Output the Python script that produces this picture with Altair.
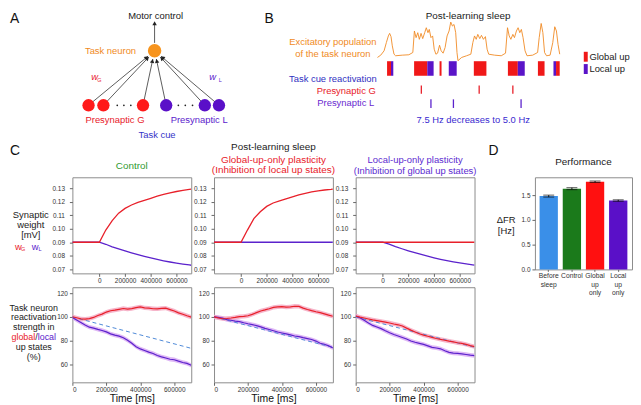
import altair as alt
import pandas as pd

FONT = "Liberation Sans"
INK = "#1a1a1a"
RED = "#e8202a"
PURPLE = "#5b22cc"
ORANGE = "#f08a24"
CUE_BLUE = "#3434c8"
BAND_RED = "#f4a3bd"
BAND_PURPLE = "#d7a6f2"
DASH_BLUE = "#4f8ad8"
TITLE_GREEN = "#2f9a2f"
TITLE_PURPLE = "#5b2ad0"
UP_COLORS = {"Global up": "#f01818", "Local up": "#5a14c8"}
POP_COLORS = {"G": "#ff1a1a", "L": "#5a10c8"}

# ---------------- Panel A : network diagram (diagram units) ----------------
neuron_pos = [147.0, 40.3]
presyn_x = [80.3, 95.3, 135.3, 158.7, 197.7, 212.0]
presyn_kind = ["G", "G", "G", "L", "L", "L"]
presyn_row = 95.3
dots_x = [109.3, 116.0, 123.0, 171.0, 178.0, 185.3]

# ---------------- Panel B : post-learning sleep ----------------
trace_t = [-0.1, 0.23, 0.57, 0.8, 1.0, 1.13, 1.27, 1.4, 1.57, 1.73, 2.4, 3.07, 3.47, 3.63, 3.8, 3.97,
           4.13, 4.3, 4.47, 4.67, 4.83, 5.0, 5.13, 5.3, 5.47, 5.63, 5.8, 5.97, 6.17, 6.33, 6.53, 6.73,
           6.93, 7.13, 7.3, 7.47, 7.63, 7.8, 7.93, 8.03, 8.4, 8.9, 9.33, 9.53, 9.7, 9.87, 10.03, 10.23,
           10.4, 10.6, 10.8, 10.97, 11.13, 11.73, 12.4, 12.83, 13.03, 13.2, 13.37, 13.57, 13.73, 13.93,
           14.1, 14.27, 14.43, 14.6, 14.8, 15.0, 15.57, 16.07, 16.23, 16.43, 16.6, 16.77, 16.97, 17.33,
           17.6, 17.8, 17.97, 18.13, 18.3]
trace_rate = [3, 5.3, 9.7, 18, 24.7, 27.3, 24, 14.7, 6.3, 4.7, 5.3, 5.7, 8, 29.7, 23, 28,
              21.3, 27.3, 22, 28, 33, 28, 31.3, 23, 24.7, 11.3, 6.3, 7.3, 15.3, 9.7, 7.3, 13,
              24.7, 29.7, 38.7, 34.7, 36.3, 28, 8, -0.3, 3, 4.7, 6.3, 18, 24.7, 21.3, 26.3, 22,
              25.3, 21.3, 24, 11.3, 6.3, 5.3, 4.7, 7.3, 33, 24.7, 21.3, 26.3, 23, 29.7,
              33, 28, 31.3, 23, 9.7, 4.7, 5.3, 8, 23, 37.3, 28, 8, 4.7, 5.3,
              18, 34, 29.7, 16.3, 6.3]
up_start = [0.87, 1.27, 3.6, 4.93, 6.17, 7.1, 9.63, 13.07, 14.07, 16.1, 17.67, 17.93]
up_end = [1.27, 1.5, 4.93, 5.57, 6.37, 7.9, 10.9, 14.07, 14.77, 16.77, 17.93, 18.3]
up_kind = ["Global up", "Local up", "Global up", "Local up", "Global up", "Local up", "Global up",
           "Global up", "Local up", "Global up", "Local up", "Global up"]
spike_G = [4.33, 10.17, 13.57]
spike_L = [5.3, 7.57, 14.4]

# ---------------- Panel C : synaptic weights ----------------
T1 = [-210000, 0, 50000, 100000, 150000, 200000, 250000, 300000, 350000, 400000, 450000,
      500000, 550000, 600000, 650000, 700000, 715000]
ctrl_wG = [0.0900, 0.0900, 0.0990, 0.1060, 0.1115, 0.1150, 0.1175, 0.1195, 0.1210, 0.1225, 0.1240,
           0.1253, 0.1265, 0.1275, 0.1283, 0.1290, 0.1292]
ctrl_wL = [0.0900, 0.0900, 0.0885, 0.0866, 0.0851, 0.0836, 0.0822, 0.0809, 0.0796, 0.0784, 0.0773,
           0.0763, 0.0754, 0.0746, 0.0739, 0.0732, 0.0730]
glob_wG = [0.0900, 0.0900, 0.0990, 0.1075, 0.1125, 0.1165, 0.1190, 0.1205, 0.1220, 0.1235, 0.1250,
           0.1262, 0.1272, 0.1280, 0.1286, 0.1290, 0.1292]
glob_wL = [0.0900, 0.0900, 0.0900, 0.0900, 0.0900, 0.0900, 0.0900, 0.0900, 0.0900, 0.0900, 0.0900,
           0.0900, 0.0900, 0.0900, 0.0900, 0.0900, 0.0900]
loc_wG = [0.0900, 0.0900, 0.0900, 0.0900, 0.0900, 0.0900, 0.0900, 0.0900, 0.0900, 0.0900, 0.0900,
          0.0900, 0.0900, 0.0900, 0.0900, 0.0900, 0.0900]
loc_wL = [0.0900, 0.0900, 0.0886, 0.0868, 0.0852, 0.0837, 0.0823, 0.0810, 0.0797, 0.0785, 0.0774,
          0.0764, 0.0755, 0.0747, 0.0740, 0.0733, 0.0731]
W_TICKS = [0.07, 0.08, 0.09, 0.10, 0.11, 0.12, 0.13]
T_TICKS = [0, 200000, 400000, 600000]

# ---------------- Panel C : reactivation strength (%) ----------------
T2 = [0, 25000, 50000, 75000, 100000, 125000, 150000, 175000, 200000, 225000, 250000, 275000,
      300000, 325000, 350000, 375000, 400000, 425000, 450000, 475000, 500000, 525000, 550000,
      575000, 600000, 625000, 650000, 675000, 700000]
ctrl_red = [100.2, 99.3, 98.4, 98.1, 98.6, 99.6, 101.2, 102.4, 104.1, 105.2, 105.7, 106.4, 107.1,
            106.6, 107.0, 107.9, 108.5, 107.7, 107.4, 106.9, 106.8, 107.2, 107.4, 106.2, 105.0,
            103.4, 102.3, 101.0, 99.9]
ctrl_purple = [99.6, 97.4, 95.3, 93.2, 91.4, 90.6, 89.5, 88.6, 87.4, 85.8, 84.7, 83.9, 82.5, 80.4,
               77.9, 75.0, 73.1, 71.8, 70.4, 69.3, 67.6, 66.4, 65.5, 64.4, 64.0, 62.8, 61.7, 60.9, 59.3]
glob_red = [100.1, 99.2, 98.5, 98.7, 99.1, 99.6, 100.2, 100.5, 101.0, 102.2, 103.6, 105.0, 105.9,
            106.9, 108.1, 108.4, 108.7, 108.3, 108.5, 109.0, 108.9, 107.4, 106.3, 105.3, 104.4,
            103.6, 102.6, 101.5, 100.6]
glob_purple = [100.0, 99.7, 99.0, 97.7, 97.2, 96.5, 96.0, 95.1, 94.3, 93.6, 92.7, 91.6, 90.4, 89.4,
               88.4, 87.3, 86.5, 85.7, 84.9, 84.0, 83.5, 82.6, 81.8, 81.0, 79.7, 77.9, 77.0, 75.7, 73.9]
loc_red = [100.8, 99.9, 99.1, 98.3, 97.5, 96.9, 96.3, 95.6, 94.9, 94.1, 93.4, 92.4, 90.6, 88.9,
           87.4, 85.9, 84.7, 83.8, 82.8, 81.9, 81.1, 80.4, 79.6, 79.0, 78.3, 77.7, 76.9, 75.9, 75.0]
loc_purple = [100.8, 99.3, 97.2, 95.0, 92.9, 91.6, 90.2, 88.4, 86.7, 85.2, 84.0, 82.7, 81.4, 79.8,
              78.7, 77.8, 76.9, 75.7, 74.4, 73.9, 73.2, 71.6, 70.2, 69.6, 69.3, 68.9, 68.4, 67.9, 67.5]
dash_end = {"ctrl": 73.6, "glob": 74.4, "loc": 74.5}

# ---------------- Panel D : performance ----------------
d_cats = ["Before sleep", "Control", "Global up only", "Local up only"]
d_vals = [1.48, 1.63, 1.77, 1.39]
d_err = [0.02, 0.02, 0.015, 0.015]
d_colors = ["#3a8fe8", "#1b7a1b", "#ff1010", "#5a10c8"]
D_TICKS = [0.0, 0.5, 1.0, 1.5]

NOFRAME = alt.ViewBackground(stroke="transparent")


def text_layer(rows, xs, ys, align="center", baseline="middle", style="normal"):
    df = pd.DataFrame(rows, columns=["text", "x", "y", "c", "s"])
    return alt.Chart(df).mark_text(align=align, baseline=baseline, font=FONT, fontStyle=style).encode(
        x=alt.X("x:Q", scale=xs, axis=None),
        y=alt.Y("y:Q", scale=ys, axis=None),
        text="text:N",
        color=alt.Color("c:N", scale=None),
        size=alt.Size("s:Q", scale=None),
    )


# grid geometry (flush bounds, per-column alignment)
H0 = 154            # top row height
LW = 41             # label column width
CW, CH1, CH2 = 120, 97, 96
GAPW = 15
DW, DH = 98, 93

# ======================= Panel A =======================
ax_s = alt.Scale(domain=[0, LW], nice=False, zero=False)
ay_s = alt.Scale(domain=[0, H0], reverse=True, nice=False, zero=False)
edges = pd.DataFrame({"x": presyn_x, "y": [presyn_row] * 6,
                      "nx": [neuron_pos[0]] * 6, "ny": [neuron_pos[1]] * 6})
eb = (alt.Chart(edges)
      .transform_calculate(dx="datum.nx - datum.x")
      .transform_calculate(dy="datum.ny - datum.y")
      .transform_calculate(L="sqrt(datum.dx*datum.dx + datum.dy*datum.dy)")
      .transform_calculate(ex="datum.nx - datum.dx/datum.L*8.5")
      .transform_calculate(ey="datum.ny - datum.dy/datum.L*8.5")
      .transform_calculate(hx="datum.nx - datum.dx/datum.L*10.5")
      .transform_calculate(hy="datum.ny - datum.dy/datum.L*10.5")
      .transform_calculate(ang="(atan2(datum.dx, -datum.dy)*180/PI + 360) % 360"))
a_edges = eb.mark_rule(color="#333333", strokeWidth=0.8).encode(
    x=alt.X("x:Q", scale=ax_s, axis=None), y=alt.Y("y:Q", scale=ay_s, axis=None),
    x2="ex:Q", y2="ey:Q")
a_heads = eb.mark_point(shape="triangle-up", filled=True, size=20, color="#222222", opacity=1).encode(
    x=alt.X("hx:Q", scale=ax_s, axis=None), y=alt.Y("hy:Q", scale=ay_s, axis=None),
    angle=alt.Angle("ang:Q", scale=None))
motor = pd.DataFrame({"x": [neuron_pos[0]], "y": [neuron_pos[1] - 8], "y2": [12.5]})
a_out = alt.Chart(motor).mark_rule(color="#333333", strokeWidth=0.8).encode(
    x=alt.X("x:Q", scale=ax_s, axis=None), y=alt.Y("y:Q", scale=ay_s, axis=None), y2="y2:Q")
a_outhead = alt.Chart(motor).mark_point(shape="triangle-up", filled=True, size=20, color="#222222",
                                        opacity=1).encode(
    x=alt.X("x:Q", scale=ax_s, axis=None), y=alt.Y("y2:Q", scale=ay_s, axis=None))
nodes = pd.DataFrame({"x": presyn_x, "y": [presyn_row] * 6,
                      "c": [POP_COLORS[k] for k in presyn_kind]})
a_nodes = alt.Chart(nodes).mark_circle(size=155, opacity=1).encode(
    x=alt.X("x:Q", scale=ax_s, axis=None), y=alt.Y("y:Q", scale=ay_s, axis=None),
    color=alt.Color("c:N", scale=None))
a_neuron = alt.Chart(pd.DataFrame({"x": [neuron_pos[0]], "y": [neuron_pos[1]]})).mark_circle(
    size=185, opacity=1, color="#f7941d").encode(
    x=alt.X("x:Q", scale=ax_s, axis=None), y=alt.Y("y:Q", scale=ay_s, axis=None))
a_dots = alt.Chart(pd.DataFrame({"x": dots_x, "y": [presyn_row] * 6})).mark_circle(
    size=3, opacity=1, color="#222222").encode(
    x=alt.X("x:Q", scale=ax_s, axis=None), y=alt.Y("y:Q", scale=ay_s, axis=None))
a_txt = text_layer([
    ["Motor control", 148, 5.0, INK, 9.5],
    ["Task neuron", 102.5, 41, ORANGE, 9.5],
    ["Presynaptic G", 107, 110.3, RED, 9.5],
    ["Presynaptic L", 192, 110.3, PURPLE, 9.5],
    ["Task cue", 149.5, 125.3, CUE_BLUE, 9.5],
    ["G", 91.3, 69.8, RED, 5.5],
    ["L", 213.3, 69.8, PURPLE, 5.5],
], ax_s, ay_s)
a_w = text_layer([
    ["w", 86.5, 66.5, RED, 9.5],
    ["w", 205.5, 66.5, PURPLE, 9.5],
], ax_s, ay_s, style="italic")
a_letter = text_layer([["A", 1, 1, "#111111", 14]], ax_s, ay_s, align="left", baseline="top")
panel_A = alt.layer(a_edges, a_heads, a_out, a_outhead, a_nodes, a_neuron, a_dots, a_txt, a_w,
                    a_letter).properties(width=LW, height=H0, view=NOFRAME)

# ======================= Panel B =======================
# the B cell sits in the third grid column; time axis: 10 px per second, t=0 at the trace start
bx_s = alt.Scale(domain=[-16.6, -4.6], nice=False, zero=False)
by_s = alt.Scale(domain=[0, H0], reverse=True, nice=False, zero=False)
b_trace = alt.Chart(pd.DataFrame({"t": trace_t, "r": trace_rate})).mark_line(
    color=ORANGE, strokeWidth=0.9).encode(
    x=alt.X("t:Q", scale=bx_s, axis=None),
    y=alt.Y("r:Q", scale=alt.Scale(domain=[-104, 50], nice=False, zero=False), axis=None))
up_df = pd.DataFrame({"t1": up_start, "t2": up_end, "c": [UP_COLORS[k] for k in up_kind]})
b_up = alt.Chart(up_df).transform_calculate(y1="50.8", y2="65.5").mark_rect().encode(
    x=alt.X("t1:Q", scale=bx_s, axis=None), x2="t2:Q",
    y=alt.Y("y1:Q", scale=by_s, axis=None), y2="y2:Q",
    color=alt.Color("c:N", scale=None))
sp_df = pd.DataFrame({"t": spike_G + spike_L,
                      "pop": ["G"] * len(spike_G) + ["L"] * len(spike_L),
                      "c": [RED] * len(spike_G) + [PURPLE] * len(spike_L)})
b_spk = alt.Chart(sp_df).transform_calculate(
    y1="datum.pop == 'G' ? 75.3 : 89.3", y2="datum.pop == 'G' ? 83.7 : 98.0").mark_rule(
    strokeWidth=1.3).encode(
    x=alt.X("t:Q", scale=bx_s, axis=None),
    y=alt.Y("y1:Q", scale=by_s, axis=None), y2="y2:Q",
    color=alt.Color("c:N", scale=None))
leg_df = pd.DataFrame({"c": [UP_COLORS["Global up"], UP_COLORS["Local up"]],
                       "t1": [20.73, 20.73], "t2": [21.13, 21.13],
                       "y1": [41.3, 53.7], "y2": [51.3, 63.7]})
b_leg = alt.Chart(leg_df).mark_rect().encode(
    x=alt.X("t1:Q", scale=bx_s, axis=None), x2="t2:Q",
    y=alt.Y("y1:Q", scale=by_s, axis=None), y2="y2:Q",
    color=alt.Color("c:N", scale=None))
b_txt = text_layer([
    ["Post-learning sleep", 9.05, 5.2, INK, 10],
    ["Excitatory population", -4.6, 31.3, ORANGE, 9.5],
    ["of the task neuron", -4.6, 43.7, ORANGE, 9.5],
    ["Task cue reactivation", -4.6, 68.7, "#2f2fbf", 9.5],
    ["Presynaptic G", -3.25, 81.3, RED, 9.5],
    ["Presynaptic L", -3.3, 93.3, "#6a2ad0", 9.5],
    ["7.5 Hz decreases to 5.0 Hz", 9.57, 109.7, "#3a2ad0", 9.5],
], bx_s, by_s)
b_legtxt = text_layer([
    ["Global up", 21.3, 46.3, INK, 9.5],
    ["Local up", 21.3, 58.7, INK, 9.5],
], bx_s, by_s, align="left")
b_letter = text_layer([["B", -11.5, 1, "#111111", 14]], bx_s, by_s, align="left", baseline="top")
panel_B = alt.layer(b_trace, b_up, b_spk, b_leg, b_txt, b_legtxt, b_letter).resolve_scale(
    y="independent").properties(width=CW, height=H0, view=NOFRAME)

# ======================= Panel C =======================


def weight_panel(wG, wL, title):
    df = pd.DataFrame({"t": T1, "wG": wG, "wL": wL})
    xs = alt.X("t:Q", scale=alt.Scale(domain=[-210000, 715000], nice=False, zero=False),
               axis=alt.Axis(values=T_TICKS, format="d", title="", labelPadding=1))
    ys = alt.Scale(domain=[0.067, 0.138], nice=False, zero=False)
    yax = alt.Axis(values=W_TICKS, format=".2f", title="", labelPadding=5)
    base = alt.Chart(df)
    lp = base.mark_line(color=PURPLE, strokeWidth=1.3, clip=True).encode(
        x=xs, y=alt.Y("wL:Q", scale=ys, axis=yax))
    lr = base.mark_line(color=RED, strokeWidth=1.3, clip=True).encode(
        x=xs, y=alt.Y("wG:Q", scale=ys, axis=yax))
    return alt.layer(lp, lr).properties(width=CW, height=CH1, title=title)


def react_panel(red, purple, dend):
    df = pd.DataFrame({"t": T2, "red": red, "purple": purple})
    xs = alt.X("t:Q", scale=alt.Scale(domain=[0, 700000], nice=False, zero=False),
               axis=alt.Axis(values=T_TICKS, format="d", title="Time [ms]", titleFontSize=10.5,
                             titlePadding=1, labelPadding=1))
    ys = alt.Scale(domain=[45, 125], nice=False, zero=False)
    yax = alt.Axis(values=[60, 80, 100, 120], title="", labelPadding=2)
    base = alt.Chart(df).transform_calculate(
        rlo="datum.red - 1.8", rhi="datum.red + 1.8",
        plo="datum.purple - 1.8", phi="datum.purple + 1.8")
    bp = base.mark_area(color=BAND_PURPLE, opacity=0.8, clip=True).encode(
        x=xs, y=alt.Y("plo:Q", scale=ys, axis=yax), y2="phi:Q")
    br = base.mark_area(color=BAND_RED, opacity=0.8, clip=True).encode(
        x=xs, y=alt.Y("rlo:Q", scale=ys, axis=yax), y2="rhi:Q")
    dash = alt.Chart(pd.DataFrame({"t": [0, 700000], "v": [100, dend]})).mark_line(
        color=DASH_BLUE, strokeDash=[4, 3], strokeWidth=1).encode(
        x=xs, y=alt.Y("v:Q", scale=ys, axis=yax))
    lp = base.mark_line(color=PURPLE, strokeWidth=1.2, clip=True).encode(
        x=xs, y=alt.Y("purple:Q", scale=ys, axis=yax))
    lr = base.mark_line(color=RED, strokeWidth=1.2, clip=True).encode(
        x=xs, y=alt.Y("red:Q", scale=ys, axis=yax))
    return alt.layer(bp, br, dash, lp, lr).properties(width=CW, height=CH2)


c11 = weight_panel(ctrl_wG, ctrl_wL, alt.TitleParams("Control", color=TITLE_GREEN, fontSize=10,
                                                        offset=6))
c12 = weight_panel(glob_wG, glob_wL,
                   alt.TitleParams(["Global-up-only plasticity", "(Inhibition of local up states)"],
                                   color=RED, fontSize=10, offset=2, lineHeight=10.5))
c13 = weight_panel(loc_wG, loc_wL,
                   alt.TitleParams(["Local-up-only plasticity", "(Inhibition of global up states)"],
                                   color=TITLE_PURPLE, fontSize=9.5, offset=2, lineHeight=10.5))
c21 = react_panel(ctrl_red, ctrl_purple, dash_end["ctrl"])
c22 = react_panel(glob_red, glob_purple, dash_end["glob"])
c23 = react_panel(loc_red, loc_purple, dash_end["loc"])

lx_s = alt.Scale(domain=[0, LW], nice=False, zero=False)
ly1_s = alt.Scale(domain=[0, CH1], reverse=True, nice=False, zero=False)
ly2_s = alt.Scale(domain=[0, CH2], reverse=True, nice=False, zero=False)
lab_top = alt.layer(
    text_layer([
        ["Synaptic", 22, 38, INK, 9.5],
        ["weight", 22, 48.3, INK, 9.5],
        ["[mV]", 22, 58.6, INK, 9.5],
        ["w", 9.5, 70, RED, 9.5],
        ["G", 14.3, 72.6, RED, 5.5],
        ["w", 26.5, 70, PURPLE, 9.5],
        ["L", 31.3, 72.6, PURPLE, 5.5],
        ["Post-learning sleep", 267, -31, INK, 10],
    ], lx_s, ly1_s),
    text_layer([["C", 1, -34, "#111111", 14]], lx_s, ly1_s, align="left", baseline="top"),
).properties(width=LW, height=CH1, view=NOFRAME)

lab_bot = alt.layer(
    text_layer([
        ["Task neuron", 25, 20.5, INK, 9],
        ["reactivation", 25, 30.4, INK, 9],
        ["strength in", 25, 40.3, INK, 9],
        ["/", 27.75, 50.2, INK, 9],
        ["up states", 25, 60.1, INK, 9],
        ["(%)", 25, 70, INK, 9],
    ], lx_s, ly2_s),
    text_layer([["global", 26.5, 50.2, RED, 9]], lx_s, ly2_s, align="right"),
    text_layer([["local", 29.0, 50.2, PURPLE, 9]], lx_s, ly2_s, align="left"),
).properties(width=LW, height=CH2, view=NOFRAME)

# ======================= Panel D =======================
d_df = pd.DataFrame({"cond": d_cats, "val": d_vals, "err": d_err, "c": d_colors})
dx = alt.X("cond:N", sort=d_cats,
           scale=alt.Scale(domain=d_cats, paddingInner=0.21, paddingOuter=0.2),
           axis=alt.Axis(labelExpr="split(datum.label, ' ')", labelAngle=0, title="", tickSize=2,
                         labelPadding=1.5, labelLineHeight=8.3, labelFontSize=6.8))
dys = alt.Scale(domain=[0, 1.86], nice=False, zero=False)
dyax = alt.Axis(values=D_TICKS, format=".1f", title="", labelPadding=2, labelOverlap=False,
                labelFlush=False)
d_base = alt.Chart(d_df).transform_calculate(lo="datum.val - datum.err", hi="datum.val + datum.err")
d_bars = d_base.mark_bar().encode(
    x=dx, y=alt.Y("val:Q", scale=dys, axis=dyax),
    color=alt.Color("c:N", scale=None))
d_rule = d_base.mark_rule(color="#111111", strokeWidth=1).encode(
    x=dx, y=alt.Y("lo:Q", scale=dys, axis=dyax), y2="hi:Q")
d_cap1 = d_base.mark_tick(color="#111111", size=11, thickness=1).encode(
    x=dx, y=alt.Y("lo:Q", scale=dys, axis=dyax))
d_cap2 = d_base.mark_tick(color="#111111", size=11, thickness=1).encode(
    x=dx, y=alt.Y("hi:Q", scale=dys, axis=dyax))
panel_D = alt.layer(d_bars, d_rule, d_cap1, d_cap2).properties(
    width=DW, height=DH, title=alt.TitleParams("Performance", fontSize=10, offset=10.5, color=INK))

# gap cell between C and D carries the "D" panel letter and the D y-axis title
gap_s = alt.Scale(domain=[0, GAPW], nice=False, zero=False)
gap_top = alt.layer(
    text_layer([["D", -9, -34, "#111111", 14]], gap_s, ly1_s, align="left", baseline="top"),
    text_layer([["ΔFR", 9, 43.2, INK, 9.5], ["[Hz]", 9, 54.0, INK, 9.5]], gap_s, ly1_s),
).properties(width=GAPW, height=CH1, view=NOFRAME)


def spacer(w, h):
    # an invisible placeholder cell, its (empty) mark kept in the middle of the cell
    return alt.Chart(pd.DataFrame({"a": [0]})).mark_point(opacity=0, size=1).encode(
        x=alt.value(w / 2), y=alt.value(h / 2)).properties(width=w, height=h, view=NOFRAME)


cells = [
    panel_A, spacer(1, H0), panel_B, spacer(1, H0), spacer(1, H0), spacer(1, H0),
    lab_top, c11, c12, c13, gap_top, panel_D,
    lab_bot, c21, c22, c23, spacer(GAPW, CH2), spacer(DW, 10),
]

chart = alt.concat(*cells, columns=6, spacing={"row": 14, "column": 23},
                   bounds="flush", align="each").properties(padding=0)

chart = (chart
         .configure(font=FONT)
         .configure_view(stroke="#8c8c8c", strokeWidth=1)
         .configure_axis(labelFont=FONT, labelFontSize=6.5, labelColor="#333333",
                         tickColor="#666666", tickSize=3, domain=False, grid=False,
                         titleFont=FONT, titleFontWeight="normal", titleColor="#111111")
         .configure_title(font=FONT, fontWeight="normal", fontSize=10, color=INK, anchor="middle"))

chart.save("out.html", embed_options={"renderer": "svg", "actions": False})
